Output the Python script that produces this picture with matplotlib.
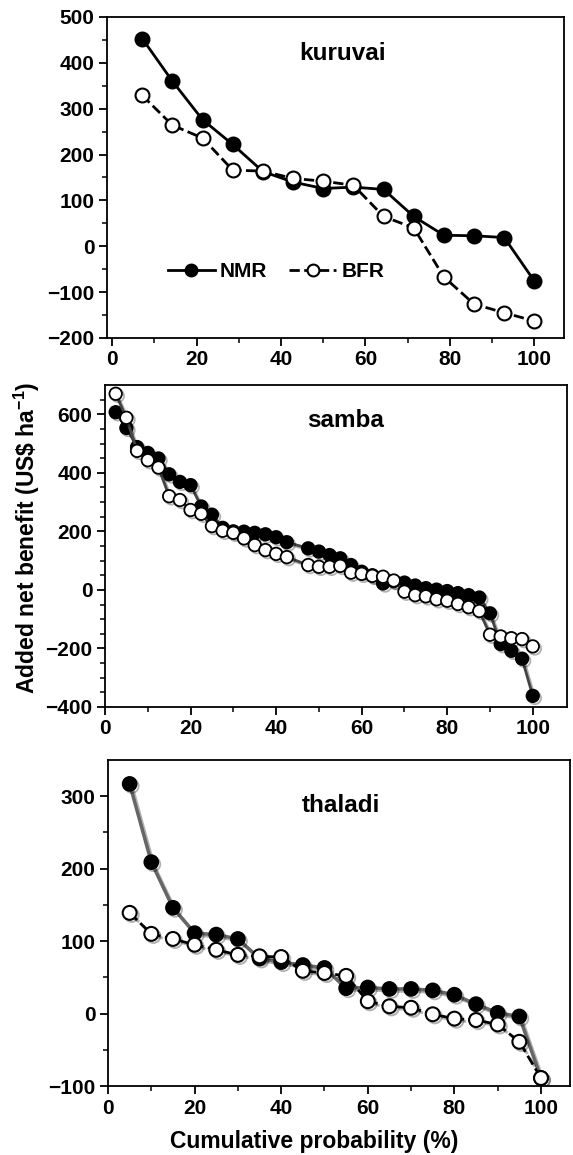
import numpy as np
import matplotlib
matplotlib.use("Agg")
from matplotlib import pyplot as plt
from matplotlib import patheffects as pe

plt.rcParams['font.family'] = ['Liberation Sans', 'DejaVu Sans']
plt.rcParams['font.weight'] = 'bold'
plt.rcParams['mathtext.fontset'] = 'custom'
plt.rcParams['mathtext.rm'] = 'Liberation Sans:bold'
plt.rcParams['mathtext.bf'] = 'Liberation Sans:bold'
plt.rcParams['mathtext.default'] = 'bf'

# kuruvai season
kur_x = [7.14, 14.29, 21.43, 28.57, 35.71, 42.86, 50.0, 57.14, 64.29, 71.43, 78.57, 85.71, 92.86, 100.0]
kur_nmr = [453, 360, 276, 222, 163, 140, 126, 129, 124, 65, 24, 23, 19, -76]
kur_bfr = [329, 264, 236, 166, 164, 148, 142, 133, 65, 40, -67, -126, -145, -163]

# samba season
sam_x = [2.5, 5, 7.5, 10, 12.5, 15, 17.5, 20, 22.5, 25, 27.5, 30, 32.5, 35, 37.5, 40, 42.5,
         47.5, 50, 52.5, 55, 57.5, 60, 62.5, 65, 67.5, 70, 72.5, 75, 77.5, 80, 82.5, 85,
         87.5, 90, 92.5, 95, 97.5, 100]
sam_nmr = [607, 553, 488, 468, 449, 395, 369, 358, 285, 257, 212, 200, 199, 195, 190, 180, 163,
           142, 131, 119, 108, 85, 62, 50, 22, 30, 25, 15, 6, 1, -4, -11, -18,
           -26, -80, -185, -208, -235, -362]
sam_bfr = [670, 588, 475, 443, 418, 320, 307, 273, 260, 218, 202, 195, 176, 153, 136, 123, 112,
           85, 79, 79, 82, 59, 55, 48, 45, 32, -6, -18, -22, -32, -37, -48, -59,
           -72, -153, -159, -165, -168, -193]

# thaladi season
tha_x = [5, 10, 15, 20, 25, 30, 35, 40, 45, 50, 55, 60, 65, 70, 75, 80, 85, 90, 95, 100]
tha_nmr = [317, 209, 146, 111, 109, 103, 76, 71, 67, 63, 35, 36, 34, 34, 32, 26, 13, 1, -4, -89]
tha_bfr = [139, 110, 103, 95, 88, 81, 79, 78, 59, 56, 52, 17, 10, 8, -1, -7, -9, -15, -39, -89]

fig = plt.figure(figsize=(5.73, 11.55), dpi=100)

shadow = [pe.SimpleLineShadow(offset=(1.5, -1.5), alpha=0.3, shadow_color='black'), pe.Normal()]


def style_axis(ax, xlim, ylim, yticks, yminor):
    ax.set_xlim(*xlim)
    ax.set_ylim(*ylim)
    ax.set_xticks([0, 20, 40, 60, 80, 100])
    ax.set_xticks([10, 30, 50, 70, 90], minor=True)
    ax.set_yticks(yticks)
    ax.set_yticks(yminor, minor=True)
    ax.tick_params(which='major', direction='out', length=6, width=1.3, labelsize=15, pad=3)
    ax.tick_params(which='minor', direction='out', length=3.5, width=1.1)
    for s in ax.spines.values():
        s.set_linewidth(1.3)
    for lab in ax.get_xticklabels() + ax.get_yticklabels():
        lab.set_fontweight('bold')


# kuruvai
ax1 = fig.add_axes([107 / 573, 1 - 338 / 1155, 457 / 573, 321 / 1155])
ax1.plot(kur_x, kur_nmr, '-', color='black', lw=2, marker='o', ms=10,
         mfc='black', mec='black', mew=1.5, label='NMR', zorder=3)
ax1.plot(kur_x, kur_bfr, '--', color='black', lw=2, marker='o', ms=10,
         mfc='white', mec='black', mew=1.5, label='BFR', zorder=4)
style_axis(ax1, (-1.2, 107), (-200, 500), np.arange(-200, 501, 100), np.arange(-150, 500, 100))
ax1.text(0.515, 0.885, 'kuruvai', transform=ax1.transAxes, ha='center', va='center',
         fontsize=17.5, fontweight='bold')
ax1.legend(loc='center', bbox_to_anchor=(0.37, 0.207), ncol=2, frameon=False,
           handlelength=2.25, columnspacing=1.05, handletextpad=0.25, markerscale=0.85,
           prop={'weight': 'bold', 'size': 15})

# samba
ax2 = fig.add_axes([105 / 573, 1 - 707 / 1155, 462 / 573, 322 / 1155])
ax2.plot(sam_x, sam_nmr, '-', color='#444444', lw=2, marker='o', ms=9,
         mfc='black', mec='black', mew=1.3, zorder=3, path_effects=shadow)
ax2.plot(sam_x, sam_bfr, '-', color='#444444', lw=2, marker='o', ms=9,
         mfc='white', mec='black', mew=1.3, zorder=4, path_effects=shadow)
style_axis(ax2, (0, 108), (-400, 700), np.arange(-400, 601, 200), np.arange(-350, 700, 50))
ax2.text(0.52, 0.89, 'samba', transform=ax2.transAxes, ha='center', va='center',
         fontsize=17.5, fontweight='bold')

# thaladi
ax3 = fig.add_axes([108 / 573, 1 - 1086 / 1155, 462 / 573, 326 / 1155])
ax3.plot(tha_x, tha_nmr, '-', color='#666666', lw=2.5, marker='o', ms=10,
         mfc='black', mec='black', mew=1.3, zorder=3, path_effects=shadow)
ax3.plot(tha_x, tha_bfr, '--', color='black', lw=2, marker='o', ms=10,
         mfc='white', mec='black', mew=1.5, zorder=4, path_effects=shadow)
style_axis(ax3, (0, 106.7), (-100, 350), np.arange(-100, 301, 100), np.arange(-50, 350, 50))
ax3.text(0.505, 0.86, 'thaladi', transform=ax3.transAxes, ha='center', va='center',
         fontsize=17.5, fontweight='bold')

fig.text(0.047, 0.534, r'Added net benefit (US\$ ha$^{-1}$)', rotation=90,
         ha='center', va='center', fontsize=16.5, fontweight='bold')
fig.text(0.548, 0.012, 'Cumulative probability (%)', ha='center', va='center',
         fontsize=16.5, fontweight='bold')

fig.savefig('out.png', dpi=100)
